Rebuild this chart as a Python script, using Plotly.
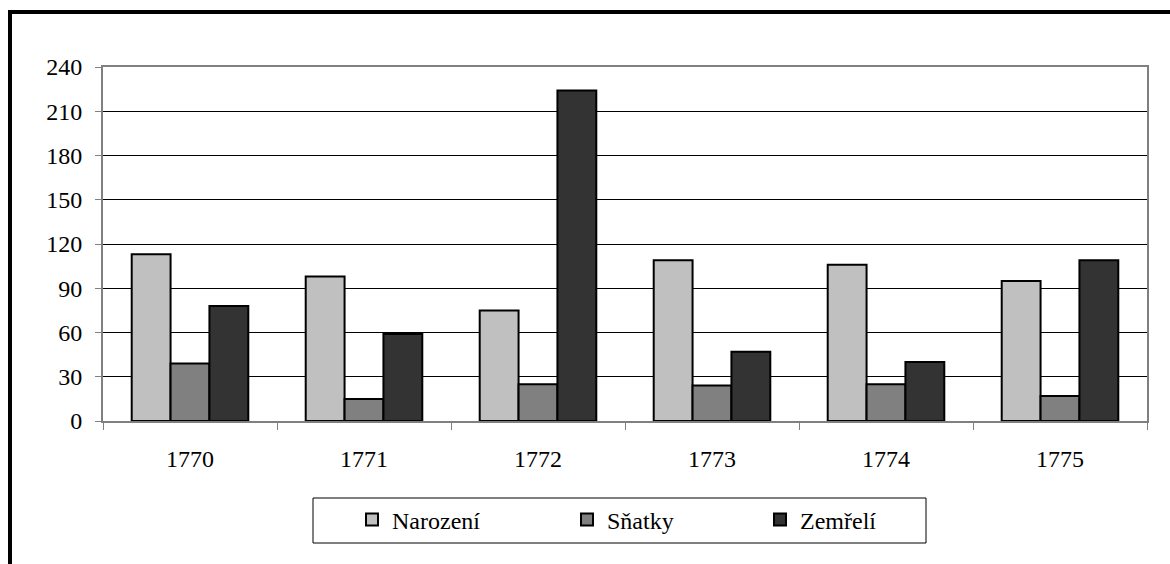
import plotly.graph_objects as go

years = ["1770", "1771", "1772", "1773", "1774", "1775"]
narozeni = [113, 98, 75, 109, 106, 95]
snatky = [39, 15, 25, 24, 25, 17]
zemreli = [78, 59, 224, 47, 40, 109]

series_names = ["Narození", "Sňatky", "Zemřelí"]
series_colors = ["#C0C0C0", "#808080", "#333333"]
y_ticks = [0, 30, 60, 90, 120, 150, 180, 210, 240]

W, H = 1170, 564
ML, MR, MT, MB = 103, 23, 67, 143
PW, PH = W - ML - MR, H - MT - MB


def px(x):
    return (x - ML) / PW


def py(y):
    return (H - MB - y) / PH


FONT = "'Times New Roman', 'Liberation Serif', 'DejaVu Serif', serif"
FS = 24

fig = go.Figure()
legend_ids = ["legend", "legend2", "legend3"]
for name, vals, col, lg in zip(series_names, [narozeni, snatky, zemreli], series_colors, legend_ids):
    fig.add_trace(go.Bar(
        x=years, y=vals, name=name, legend=lg,
        marker=dict(color=col, line=dict(color="black", width=2)),
    ))

legend_item_x = [352, 567, 760]
common_legend = dict(
    orientation="h", yanchor="middle", xanchor="left", y=py(520),
    bgcolor="rgba(0,0,0,0)", borderwidth=0,
    font=dict(family=FONT, size=FS, color="black"),
)
fig.update_layout(
    legend=dict(x=px(legend_item_x[0]), **common_legend),
    legend2=dict(x=px(legend_item_x[1]), **common_legend),
    legend3=dict(x=px(legend_item_x[2]), **common_legend),
)

fig.update_layout(
    width=W, height=H,
    margin=dict(l=ML, r=MR, t=MT, b=MB, pad=0),
    paper_bgcolor="white", plot_bgcolor="white",
    barmode="group", bargap=0.33, bargroupgap=0,
    font=dict(family=FONT, size=FS, color="black"),
    showlegend=True,
    xaxis=dict(
        type="category", showline=True, linecolor="#808080", linewidth=2,
        mirror=True, ticks="outside", tickson="boundaries", ticklen=7,
        tickcolor="#808080", tickwidth=1, showgrid=False,
        tickfont=dict(family=FONT, size=FS, color="black"),
        ticklabelstandoff=15,
    ),
    yaxis=dict(
        range=[0, 240], tickvals=y_ticks, showline=True, linecolor="#808080",
        linewidth=2, mirror=True, ticks="outside", ticklen=6,
        tickcolor="#808080", tickwidth=1, showgrid=True, gridcolor="black",
        gridwidth=1, zeroline=False,
        tickfont=dict(family=FONT, size=FS, color="black"),
        ticklabelstandoff=8,
    ),
    shapes=[
        dict(type="rect", xref="paper", yref="paper",
             x0=px(313), x1=px(926), y0=py(498), y1=py(543),
             line=dict(color="black", width=1), fillcolor="white", layer="below"),
        dict(type="rect", xref="paper", yref="paper",
             x0=px(10), x1=px(1200), y0=py(12), y1=py(620),
             line=dict(color="black", width=4), fillcolor="rgba(0,0,0,0)"),
    ],
)

fig.write_html(
    "out.html",
    config={"displayModeBar": False},
    post_script="document.body.style.margin='0';document.body.style.overflow='hidden';",
)
